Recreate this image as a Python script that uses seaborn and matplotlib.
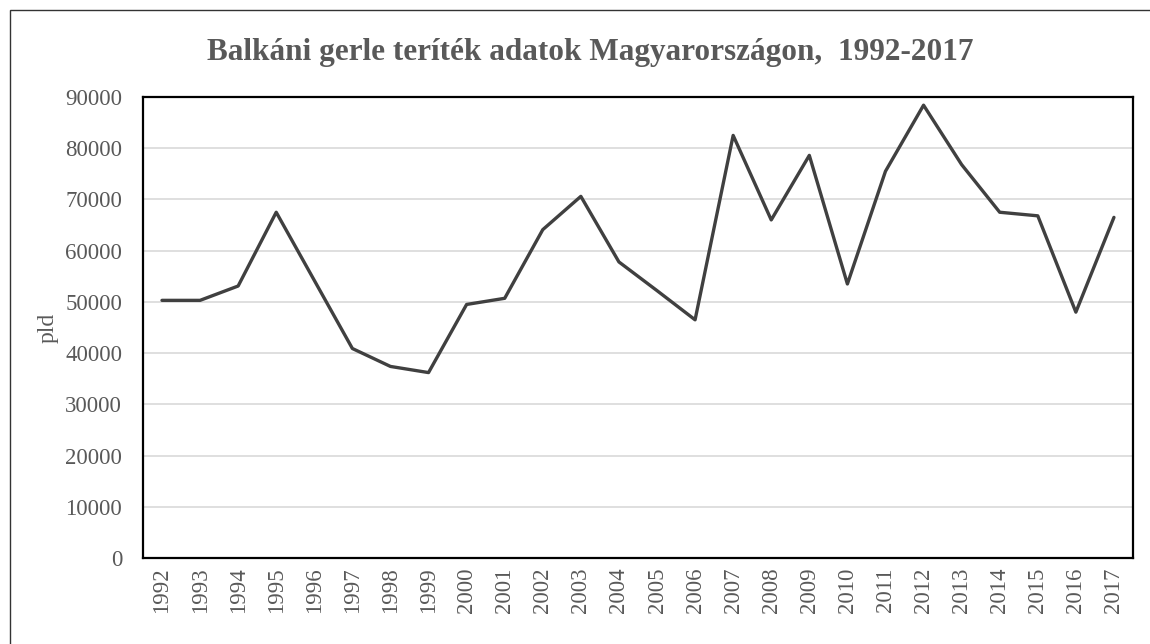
import matplotlib
matplotlib.use("Agg")
import matplotlib.pyplot as plt
import seaborn as sns
import pandas as pd
from matplotlib.patches import Rectangle

# data
years = list(range(1992, 2018))
values = [50300, 50300, 53100, 67500, 54200, 40900, 37400, 36200, 49500, 50700,
          64100, 70600, 57800, 52200, 46500, 82500, 66000, 78600, 53500, 75500,
          88400, 76800, 67500, 66800, 48000, 66500]
yticks = list(range(0, 90001, 10000))

title = "Balkáni gerle teríték adatok Magyarországon,  1992-2017"
ylabel = "pld"

df = pd.DataFrame({"year": years, "pld": values})

sns.set_style("white")
plt.rcParams['font.family'] = ['Liberation Serif', 'DejaVu Serif']
text_color = "#595959"

fig = plt.figure(figsize=(11.5, 6.44), dpi=100)
ax = fig.add_axes([0.1243, 0.1335, 0.9852 - 0.1243, 0.8494 - 0.1335])

sns.lineplot(data=df, x="year", y="pld", ax=ax, color="#404040", linewidth=2.4)

ax.set_xlim(1991.5, 2017.5)
ax.set_ylim(0, 90000)
ax.set_yticks(yticks)
ax.set_xticks(years)
ax.set_xticklabels([str(y) for y in years], rotation=90)
ax.yaxis.grid(True, color="#d9d9d9", linewidth=1.2)
ax.xaxis.grid(False)
ax.tick_params(axis="both", length=0, labelsize=16.5, colors=text_color)
ax.tick_params(axis="y", pad=15)
ax.tick_params(axis="x", pad=7)
for s in ax.spines.values():
    s.set_visible(True)
    s.set_color("black")
    s.set_linewidth(1.6)

ax.set_xlabel("")
ax.set_ylabel(ylabel, fontsize=17, color=text_color, labelpad=5)
fig.text(0.513, 0.919, title, ha="center", va="center", fontsize=22.5,
         fontweight="bold", color=text_color)

# outer chart border
fig.patches.append(Rectangle((10 / 1150, -0.1), 1.2, 1 - 10 / 644 + 0.1,
                             transform=fig.transFigure, fill=False,
                             edgecolor="#333333", linewidth=1.0))

fig.savefig("out.png", dpi=100)
